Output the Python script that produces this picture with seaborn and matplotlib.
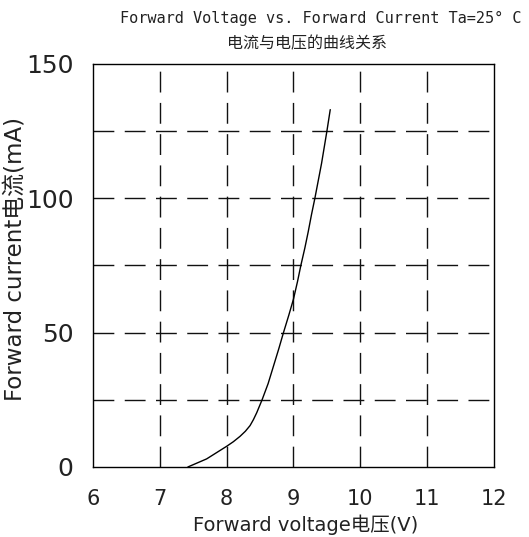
import numpy as np
import pandas as pd
import seaborn as sns
import matplotlib.pyplot as plt

# Curve
voltage = [7.42, 7.70, 8.00, 8.10, 8.20, 8.28, 8.35, 8.40, 8.45, 8.53, 8.62, 8.70, 8.78,
           8.85, 8.93, 9.00, 9.06, 9.11, 9.17, 9.22, 9.27, 9.32, 9.37, 9.42, 9.46, 9.50, 9.55]
current = [0, 3.0, 7.7, 9.4, 11.4, 13.3, 15.4, 17.6, 20.2, 25, 31, 37.5, 44,
           50, 56.5, 62.5, 69, 75, 81.5, 87.5, 94, 100, 106.5, 113, 119, 125, 133]
x_ticks = [6, 7, 8, 9, 10, 11, 12]
y_ticks = [0, 50, 100, 150]
y_grid = [25, 50, 75, 100, 125]

df = pd.DataFrame({'voltage': voltage, 'current': current})

sns.set_style("white")
plt.rcParams['font.family'] = ['DejaVu Sans', 'Noto Sans CJK SC']

fig = plt.figure(figsize=(5.29, 5.37), dpi=100)
ax = fig.add_axes([0.1758, 0.1304, 0.758, 0.7505])

# Dashed grid
for x in x_ticks[1:-1]:
    ax.axvline(x, color='#111111', lw=1.0, dashes=(15, 7.5), zorder=1)
for y in y_grid:
    ax.axhline(y, color='#111111', lw=1.0, dashes=(15, 7.5), zorder=1)

sns.lineplot(data=df, x='voltage', y='current', ax=ax, color='black', lw=1.0, zorder=3)

ax.set_xlim(6, 12)
ax.set_ylim(0, 150)
ax.set_xticks(x_ticks)
ax.set_yticks(y_ticks)
ax.tick_params(axis='x', length=0, pad=16, labelsize=15, labelcolor='#222222')
ax.tick_params(axis='y', length=0, pad=14, labelsize=18, labelcolor='#222222')
for s in ax.spines.values():
    s.set_color('black')
    s.set_linewidth(1.0)

ax.set_xlabel('Forward voltage电压(V)', fontsize=14, color='#222222')
ax.set_ylabel('Forward current电流(mA)', fontsize=16.5, color='#222222')
ax.xaxis.set_label_coords(0.53, -0.118)
ax.yaxis.set_label_coords(-0.163, 0.515)

fig.text(0.607, 0.966, 'Forward Voltage vs. Forward Current Ta=25° C',
         family=['DejaVu Sans Mono', 'Noto Sans CJK SC'], fontsize=11,
         ha='center', va='center', color='#222222')
fig.text(0.58, 0.918, '电流与电压的曲线关系',
         family=['Noto Sans CJK SC', 'DejaVu Sans'], fontsize=11.5,
         ha='center', va='center', color='#222222')

fig.savefig('out.png', dpi=100)
